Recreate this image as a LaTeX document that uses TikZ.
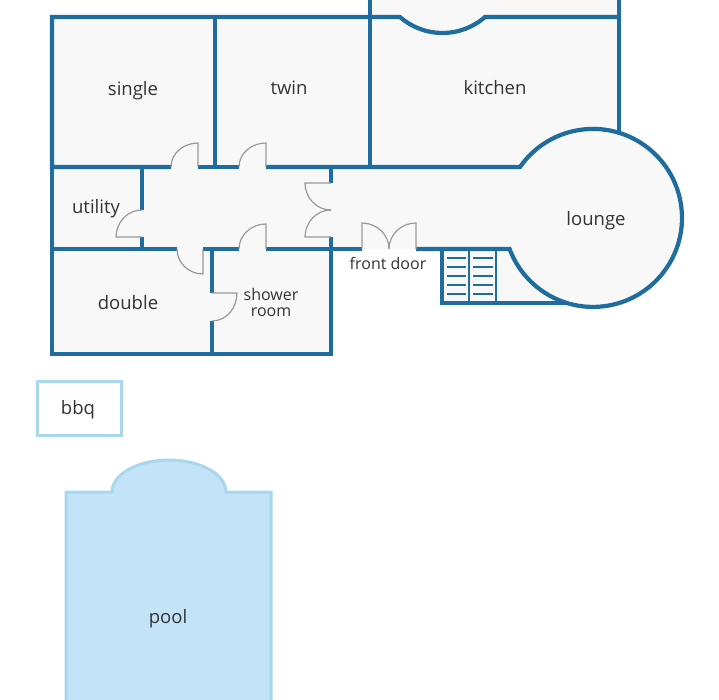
\documentclass[tikz,border=0pt]{standalone}
\usepackage{fontspec}
\setmainfont{Open Sans}
\definecolor{wallblue}{HTML}{1F6C9E}
\definecolor{floorgrey}{HTML}{F8F8F8}
\definecolor{doorgrey}{HTML}{9A9A9A}
\definecolor{poolfill}{HTML}{C2E3F8}
\definecolor{poolline}{HTML}{A9D8EC}
\definecolor{labelgrey}{HTML}{333333}
\tikzset{
  wall/.style={draw=wallblue,line width=4.2pt,line cap=butt,line join=miter},
  thinwall/.style={draw=wallblue,line width=2pt},
  tread/.style={draw=wallblue,line width=2pt},
  door/.style={draw=doorgrey,line width=1.2pt},
  floor/.style={fill=floorgrey,draw=none},
  room/.style={text=labelgrey,font=\fontsize{18.5}{20}\selectfont,align=center,inner sep=0pt},
  smallroom/.style={room,font=\fontsize{16}{17}\selectfont},
}
\begin{document}
\begin{tikzpicture}[x=1pt,y=-1pt]
   \useasboundingbox (0,0) rectangle (719,700);
   % floor
   \fill[floor] (370,0) rectangle (619,17);
   \fill[floor] (52,17) rectangle (619,167);
   \fill[floor] (52,167) rectangle (520,249);
   \fill[floor] (52,249) rectangle (331,354);
   \fill[floor] (442,249) rectangle (567,303);
   \fill[floor] (593,218) circle[radius=89pt];
   % pool and bbq
   \path[fill=poolfill,draw=poolline,line width=3pt] (66,700) -- (66,492) -- (112,492)
      arc[start angle=180,end angle=0,x radius=57pt,y radius=32pt] -- (271,492) -- (271,700);
   \draw[draw=poolline,line width=3pt] (37,381) rectangle (121,435);
   % outer and inner walls
   \draw[wall] (52,167) -- (52,354) -- (331,354);
   \draw[wall] (171,167) -- (52,167) -- (52,17) -- (400,17)
      arc[start angle=228.7,end angle=311.3,radius=64.4pt] -- (619,17);
   \draw[wall] (370,0) -- (370,167);
   \draw[wall] (619,0) -- (619,131);
   \draw[wall] (215,17) -- (215,167);
   \draw[wall] (198,167) -- (239,167);
   \draw[wall] (266,167) -- (520,167)
      arc[start angle=145.1,end angle=-159.5,radius=89pt] -- (416,249);
   \draw[wall] (142,167) -- (142,210);
   \draw[wall] (142,237) -- (142,249);
   \draw[wall] (52,249) -- (177,249);
   \draw[wall] (203,249) -- (239,249);
   \draw[wall] (266,249) -- (362,249);
   \draw[wall] (212,249) -- (212,293);
   \draw[wall] (212,321) -- (212,354);
   \draw[wall] (331,167) -- (331,183);
   \draw[wall] (331,237) -- (331,356.1);
   % stairs
   \draw[wall] (442,249) -- (442,303) -- (567,303);
   \draw[thinwall] (469,249) -- (469,303);
   \draw[thinwall] (496,249) -- (496,303);
   \foreach \y in {258,267,276,285,294} {
      \draw[tread] (447,\y) -- (466,\y);
      \draw[tread] (473,\y) -- (493,\y);
   }
   % doors
   \draw[door] (198,167) -- (198,143) to[out=180,in=90] (171,167);
   \draw[door] (266,167) -- (266,143) to[out=180,in=90] (239,167);
   \draw[door] (266,249) -- (266,224) to[out=180,in=90] (239,249);
   \draw[door] (203,249) -- (203,274) to[out=180,in=270] (177,249);
   \draw[door] (142,237) -- (116,237) to[out=90,in=180] (142,210);
   \draw[door] (331,183) -- (305,183) to[out=270,in=180] (331,210);
   \draw[door] (331,237) -- (305,237) to[out=90,in=180] (331,210);
   \draw[door] (212,293) -- (237,293) to[out=270,in=0] (212,321);
   \draw[door] (362,249) -- (362,223) to[out=0,in=90] (389,249);
   \draw[door] (416,249) -- (416,223) to[out=180,in=90] (389,249);
   % labels
   \node[room] (single) at (133,91) {single};
   \node[room] (twin) at (289,88) {twin};
   \node[room] (kitchen) at (495,88) {kitchen};
   \node[room] (utility) at (96,209) {utility};
   \node[room] (lounge) at (596,221) {lounge};
   \node[room] (double) at (128,303) {double};
   \node[smallroom] (shower) at (271,302) {shower\\[-1pt]room};
   \node[smallroom] (frontdoor) at (388,263) {front door};
   \node[room] (bbq) at (78,410) {bbq};
   \node[room] (pool) at (168,619) {pool};
\end{tikzpicture}
\end{document}
